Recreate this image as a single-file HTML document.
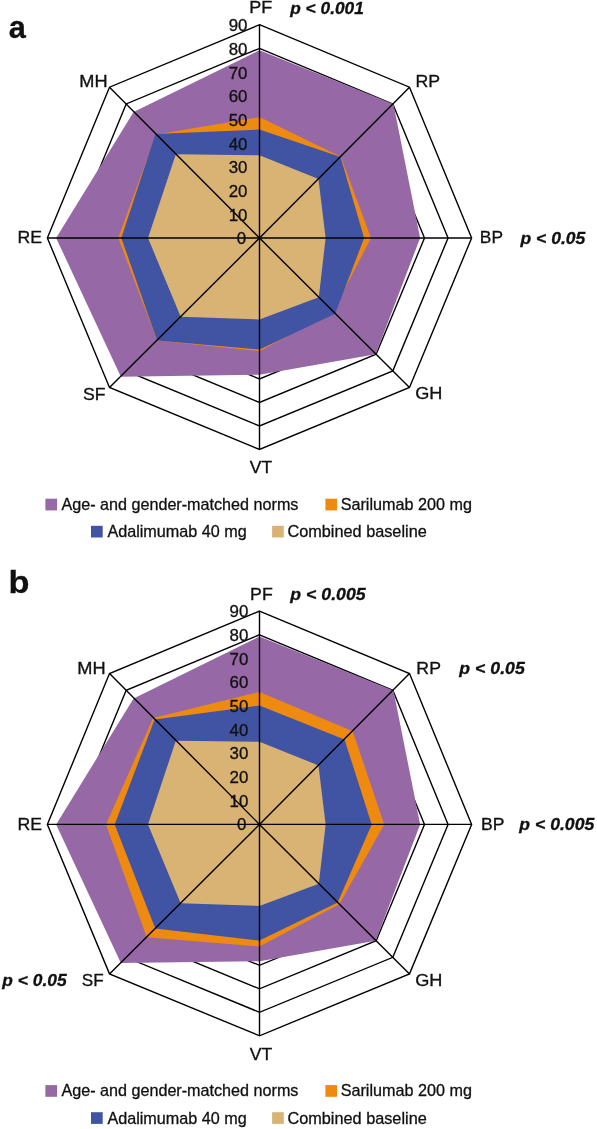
<!DOCTYPE html>
<html lang="en"><head><meta charset="utf-8"><title>Radar charts</title>
<style>html,body{margin:0;padding:0;background:#fff}svg{display:block}text{white-space:pre}</style>
</head><body>
<svg width="597" height="1129" viewBox="0 0 597 1129" font-family='"Liberation Sans", Arial, Helvetica, sans-serif'>
<rect width="597" height="1129" fill="#fff"/>
<g fill="none" stroke="#000" stroke-width="1.40" stroke-linejoin="miter">
<polygon points="259.50,214.30 276.17,221.24 283.07,238.00 276.17,254.61 259.50,261.49 242.83,254.61 235.93,238.00 242.83,221.24"/>
<polygon points="259.50,190.60 292.83,204.48 306.64,238.00 292.83,271.22 259.50,284.98 226.17,271.22 212.36,238.00 226.17,204.48"/>
<polygon points="259.50,166.90 309.50,187.72 330.21,238.00 309.50,287.83 259.50,308.47 209.50,287.83 188.79,238.00 209.50,187.72"/>
<polygon points="259.50,143.20 326.17,170.97 353.78,238.00 326.17,304.44 259.50,331.96 192.83,304.44 165.22,238.00 192.83,170.97"/>
<polygon points="259.50,119.50 342.83,154.21 377.35,238.00 342.83,321.05 259.50,355.45 176.17,321.05 141.65,238.00 176.17,154.21"/>
<polygon points="259.50,95.80 359.50,137.45 400.92,238.00 359.50,337.66 259.50,378.94 159.50,337.66 118.08,238.00 159.50,137.45"/>
<polygon points="259.50,72.10 376.17,120.69 424.49,238.00 376.17,354.27 259.50,402.43 142.83,354.27 94.51,238.00 142.83,120.69"/>
<polygon points="259.50,48.40 392.83,103.93 448.06,238.00 392.83,370.88 259.50,425.92 126.17,370.88 70.94,238.00 126.17,103.93"/>
<polygon points="259.50,24.70 409.50,87.17 471.63,238.00 409.50,387.49 259.50,449.41 109.50,387.49 47.37,238.00 109.50,87.17"/>
</g>
<polygon fill="#9669A6" points="259.50,50.22 393.45,104.05 420.12,238.00 375.74,354.24 259.50,374.76 120.87,376.63 56.13,238.00 133.57,112.07"/>
<polygon fill="#EE8A10" points="259.50,117.07 340.84,156.66 370.99,238.00 332.99,311.49 259.50,351.14 157.12,340.38 118.25,238.00 155.95,134.45"/>
<polygon fill="#4054A3" points="259.50,129.58 340.50,157.00 364.14,238.00 335.16,313.66 259.50,349.49 157.12,340.38 121.32,238.00 155.45,133.95"/>
<polygon fill="#D9B374" points="259.50,155.33 318.46,179.04 325.64,238.00 318.79,297.29 259.50,319.49 180.67,316.83 148.01,238.00 175.82,154.32"/>
<g stroke="#000" stroke-width="1.40">
<line x1="259.50" y1="238.00" x2="259.50" y2="24.70"/>
<line x1="259.50" y1="238.00" x2="409.50" y2="87.17"/>
<line x1="259.50" y1="238.00" x2="471.63" y2="238.00"/>
<line x1="259.50" y1="238.00" x2="409.50" y2="387.49"/>
<line x1="259.50" y1="238.00" x2="259.50" y2="449.41"/>
<line x1="259.50" y1="238.00" x2="109.50" y2="387.49"/>
<line x1="259.50" y1="238.00" x2="47.37" y2="238.00"/>
<line x1="259.50" y1="238.00" x2="109.50" y2="87.17"/>
</g>
<circle cx="259.50" cy="238.00" r="1.3" fill="#000"/>
<g fill="#111" stroke="#111" stroke-width="0.30">
<text x="246.20" y="244.40" font-size="15.7" textLength="9.39" lengthAdjust="spacingAndGlyphs" text-anchor="end">0</text>
<text x="247.50" y="220.70" font-size="15.7" textLength="18.77" lengthAdjust="spacingAndGlyphs" text-anchor="end">10</text>
<text x="247.50" y="197.00" font-size="15.7" textLength="18.77" lengthAdjust="spacingAndGlyphs" text-anchor="end">20</text>
<text x="247.50" y="173.30" font-size="15.7" textLength="18.77" lengthAdjust="spacingAndGlyphs" text-anchor="end">30</text>
<text x="247.50" y="149.60" font-size="15.7" textLength="18.77" lengthAdjust="spacingAndGlyphs" text-anchor="end">40</text>
<text x="247.50" y="125.90" font-size="15.7" textLength="18.77" lengthAdjust="spacingAndGlyphs" text-anchor="end">50</text>
<text x="247.50" y="102.20" font-size="15.7" textLength="18.77" lengthAdjust="spacingAndGlyphs" text-anchor="end">60</text>
<text x="247.50" y="78.50" font-size="15.7" textLength="18.77" lengthAdjust="spacingAndGlyphs" text-anchor="end">70</text>
<text x="247.50" y="54.80" font-size="15.7" textLength="18.77" lengthAdjust="spacingAndGlyphs" text-anchor="end">80</text>
<text x="247.50" y="31.10" font-size="15.7" textLength="18.77" lengthAdjust="spacingAndGlyphs" text-anchor="end">90</text>
<text x="8.66" y="38.00" font-size="31" textLength="17.10" lengthAdjust="spacingAndGlyphs" font-weight="bold">a</text>
<text x="249.39" y="13.40" font-size="15.7" textLength="22.99" lengthAdjust="spacingAndGlyphs">PF</text>
<text x="415.44" y="87.30" font-size="15.7" textLength="24.60" lengthAdjust="spacingAndGlyphs">RP</text>
<text x="479.89" y="243.10" font-size="15.7" textLength="23.15" lengthAdjust="spacingAndGlyphs">BP</text>
<text x="415.18" y="399.40" font-size="15.7" textLength="27.22" lengthAdjust="spacingAndGlyphs">GH</text>
<text x="249.85" y="473.40" font-size="15.7" textLength="22.37" lengthAdjust="spacingAndGlyphs">VT</text>
<text x="83.09" y="399.70" font-size="15.7" textLength="22.51" lengthAdjust="spacingAndGlyphs">SF</text>
<text x="17.40" y="243.10" font-size="15.7" textLength="24.56" lengthAdjust="spacingAndGlyphs">RE</text>
<text x="79.31" y="87.40" font-size="15.7" textLength="28.29" lengthAdjust="spacingAndGlyphs">MH</text>
<text x="290.18" y="13.70" font-size="16.8" textLength="73.71" lengthAdjust="spacingAndGlyphs" font-weight="bold" font-style="italic">p &lt; 0.001</text>
<text x="520.51" y="243.50" font-size="16.8" textLength="64.75" lengthAdjust="spacingAndGlyphs" font-weight="bold" font-style="italic">p &lt; 0.05</text>
<rect x="45.4" y="498.7" width="11.7" height="11.7" fill="#9669A6" stroke="none"/>
<text x="61.40" y="510.00" font-size="15.7" textLength="237.06" lengthAdjust="spacingAndGlyphs">Age- and gender-matched norms</text>
<rect x="325.4" y="498.7" width="11.7" height="11.7" fill="#EE8A10" stroke="none"/>
<text x="340.65" y="510.00" font-size="15.7" textLength="131.28" lengthAdjust="spacingAndGlyphs">Sarilumab 200 mg</text>
<rect x="91.0" y="525.8" width="11.7" height="11.7" fill="#4054A3" stroke="none"/>
<text x="107.40" y="537.10" font-size="15.7" textLength="139.40" lengthAdjust="spacingAndGlyphs">Adalimumab 40 mg</text>
<rect x="272.1" y="525.8" width="11.7" height="11.7" fill="#D9B374" stroke="none"/>
<text x="287.46" y="537.10" font-size="15.7" textLength="139.31" lengthAdjust="spacingAndGlyphs">Combined baseline</text>
</g>
<g fill="none" stroke="#000" stroke-width="1.40" stroke-linejoin="miter">
<polygon points="259.50,800.70 276.17,807.64 283.07,824.40 276.17,841.01 259.50,847.89 242.83,841.01 235.93,824.40 242.83,807.64"/>
<polygon points="259.50,777.00 292.83,790.88 306.64,824.40 292.83,857.62 259.50,871.38 226.17,857.62 212.36,824.40 226.17,790.88"/>
<polygon points="259.50,753.30 309.50,774.12 330.21,824.40 309.50,874.23 259.50,894.87 209.50,874.23 188.79,824.40 209.50,774.12"/>
<polygon points="259.50,729.60 326.17,757.37 353.78,824.40 326.17,890.84 259.50,918.36 192.83,890.84 165.22,824.40 192.83,757.37"/>
<polygon points="259.50,705.90 342.83,740.61 377.35,824.40 342.83,907.45 259.50,941.85 176.17,907.45 141.65,824.40 176.17,740.61"/>
<polygon points="259.50,682.20 359.50,723.85 400.92,824.40 359.50,924.06 259.50,965.34 159.50,924.06 118.08,824.40 159.50,723.85"/>
<polygon points="259.50,658.50 376.17,707.09 424.49,824.40 376.17,940.67 259.50,988.83 142.83,940.67 94.51,824.40 142.83,707.09"/>
<polygon points="259.50,634.80 392.83,690.33 448.06,824.40 392.83,957.28 259.50,1012.32 126.17,957.28 70.94,824.40 126.17,690.33"/>
<polygon points="259.50,611.10 409.50,673.57 471.63,824.40 409.50,973.89 259.50,1035.81 109.50,973.89 47.37,824.40 109.50,673.57"/>
</g>
<polygon fill="#9669A6" points="259.50,636.62 393.45,690.45 420.12,824.40 375.74,940.64 259.50,961.16 120.87,963.03 56.13,824.40 133.57,698.47"/>
<polygon fill="#EE8A10" points="259.50,691.89 352.70,731.20 384.21,824.40 339.33,904.23 259.50,946.52 146.76,937.14 105.97,824.40 153.11,718.01"/>
<polygon fill="#4054A3" points="259.50,705.59 344.51,739.39 371.69,824.40 337.66,902.56 259.50,940.61 155.28,928.62 114.71,824.40 154.61,719.51"/>
<polygon fill="#D9B374" points="259.50,741.73 318.46,765.44 325.64,824.40 318.79,883.69 259.50,905.89 180.67,903.23 148.01,824.40 175.82,740.72"/>
<g stroke="#000" stroke-width="1.40">
<line x1="259.50" y1="824.40" x2="259.50" y2="611.10"/>
<line x1="259.50" y1="824.40" x2="409.50" y2="673.57"/>
<line x1="259.50" y1="824.40" x2="471.63" y2="824.40"/>
<line x1="259.50" y1="824.40" x2="409.50" y2="973.89"/>
<line x1="259.50" y1="824.40" x2="259.50" y2="1035.81"/>
<line x1="259.50" y1="824.40" x2="109.50" y2="973.89"/>
<line x1="259.50" y1="824.40" x2="47.37" y2="824.40"/>
<line x1="259.50" y1="824.40" x2="109.50" y2="673.57"/>
</g>
<circle cx="259.50" cy="824.40" r="1.3" fill="#000"/>
<g fill="#111" stroke="#111" stroke-width="0.30">
<text x="246.30" y="830.40" font-size="15.7" textLength="9.39" lengthAdjust="spacingAndGlyphs" text-anchor="end">0</text>
<text x="248.40" y="806.70" font-size="15.7" textLength="18.77" lengthAdjust="spacingAndGlyphs" text-anchor="end">10</text>
<text x="248.40" y="783.00" font-size="15.7" textLength="18.77" lengthAdjust="spacingAndGlyphs" text-anchor="end">20</text>
<text x="248.40" y="759.30" font-size="15.7" textLength="18.77" lengthAdjust="spacingAndGlyphs" text-anchor="end">30</text>
<text x="248.40" y="735.60" font-size="15.7" textLength="18.77" lengthAdjust="spacingAndGlyphs" text-anchor="end">40</text>
<text x="248.40" y="711.90" font-size="15.7" textLength="18.77" lengthAdjust="spacingAndGlyphs" text-anchor="end">50</text>
<text x="248.40" y="688.20" font-size="15.7" textLength="18.77" lengthAdjust="spacingAndGlyphs" text-anchor="end">60</text>
<text x="248.40" y="664.50" font-size="15.7" textLength="18.77" lengthAdjust="spacingAndGlyphs" text-anchor="end">70</text>
<text x="248.40" y="640.80" font-size="15.7" textLength="18.77" lengthAdjust="spacingAndGlyphs" text-anchor="end">80</text>
<text x="248.40" y="617.10" font-size="15.7" textLength="18.77" lengthAdjust="spacingAndGlyphs" text-anchor="end">90</text>
<text x="8.55" y="593.30" font-size="31" textLength="20.97" lengthAdjust="spacingAndGlyphs" font-weight="bold">b</text>
<text x="250.11" y="599.60" font-size="15.7" textLength="22.65" lengthAdjust="spacingAndGlyphs">PF</text>
<text x="416.38" y="673.80" font-size="15.7" textLength="24.54" lengthAdjust="spacingAndGlyphs">RP</text>
<text x="481.13" y="829.90" font-size="15.7" textLength="23.44" lengthAdjust="spacingAndGlyphs">BP</text>
<text x="415.18" y="985.80" font-size="15.7" textLength="27.22" lengthAdjust="spacingAndGlyphs">GH</text>
<text x="249.85" y="1059.80" font-size="15.7" textLength="22.37" lengthAdjust="spacingAndGlyphs">VT</text>
<text x="81.89" y="986.10" font-size="15.7" textLength="21.85" lengthAdjust="spacingAndGlyphs">SF</text>
<text x="17.43" y="829.60" font-size="15.7" textLength="24.54" lengthAdjust="spacingAndGlyphs">RE</text>
<text x="77.25" y="673.80" font-size="15.7" textLength="28.31" lengthAdjust="spacingAndGlyphs">MH</text>
<text x="290.33" y="599.80" font-size="16.8" textLength="75.26" lengthAdjust="spacingAndGlyphs" font-weight="bold" font-style="italic">p &lt; 0.005</text>
<text x="459.39" y="674.30" font-size="16.8" textLength="65.35" lengthAdjust="spacingAndGlyphs" font-weight="bold" font-style="italic">p &lt; 0.05</text>
<text x="519.39" y="830.40" font-size="16.8" textLength="74.84" lengthAdjust="spacingAndGlyphs" font-weight="bold" font-style="italic">p &lt; 0.005</text>
<text x="2.37" y="986.40" font-size="16.8" textLength="64.28" lengthAdjust="spacingAndGlyphs" font-weight="bold" font-style="italic">p &lt; 0.05</text>
<rect x="45.4" y="1085.1" width="11.7" height="11.7" fill="#9669A6" stroke="none"/>
<text x="61.40" y="1096.40" font-size="15.7" textLength="237.06" lengthAdjust="spacingAndGlyphs">Age- and gender-matched norms</text>
<rect x="325.4" y="1085.1" width="11.7" height="11.7" fill="#EE8A10" stroke="none"/>
<text x="340.65" y="1096.40" font-size="15.7" textLength="131.28" lengthAdjust="spacingAndGlyphs">Sarilumab 200 mg</text>
<rect x="91.0" y="1112.2" width="11.7" height="11.7" fill="#4054A3" stroke="none"/>
<text x="107.40" y="1123.50" font-size="15.7" textLength="139.40" lengthAdjust="spacingAndGlyphs">Adalimumab 40 mg</text>
<rect x="272.1" y="1112.2" width="11.7" height="11.7" fill="#D9B374" stroke="none"/>
<text x="287.46" y="1123.50" font-size="15.7" textLength="139.31" lengthAdjust="spacingAndGlyphs">Combined baseline</text>
</g>
</svg>
</body></html>
